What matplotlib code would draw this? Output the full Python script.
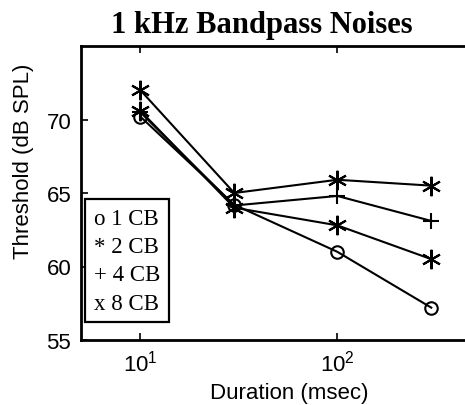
import matplotlib.pyplot as plt
from matplotlib.ticker import LogLocator, NullLocator

plt.rcParams['mathtext.fontset'] = 'custom'
plt.rcParams['mathtext.rm'] = 'Liberation Sans'
plt.rcParams['mathtext.it'] = 'Liberation Sans:italic'
plt.rcParams['mathtext.bf'] = 'Liberation Sans:bold'

# Data
durations = [10, 30, 100, 300]
thr_1cb = [70.2, 64.2, 61.0, 57.2]
thr_2cb = [72.0, 65.0, 65.9, 65.5]
thr_4cb = [70.5, 64.15, 64.8, 63.1]
thr_8cb = [70.6, 64.0, 62.8, 60.5]
legend_labels = ['o 1 CB', '* 2 CB', '+ 4 CB', 'x 8 CB']
yticks = [55, 60, 65, 70]

asterisk = (6, 2, 0)

fig = plt.figure(figsize=(4.65, 4.06), dpi=100)
ax = fig.add_axes([81 / 465, 65 / 406, 394 / 465, 294 / 406])

ax.plot(durations, thr_1cb, color='black', lw=1.5, marker='o', ms=9, mfc='none', mew=1.5)
ax.plot(durations, thr_2cb, color='black', lw=1.5, marker=asterisk, ms=14, mew=1.5)
ax.plot(durations, thr_4cb, color='black', lw=1.5, marker='+', ms=12, mew=1.5)
ax.plot(durations, thr_8cb, color='black', lw=1.5, marker=asterisk, ms=14, mew=1.5)

ax.set_xscale('log')
ax.set_xlim(5, 500)
ax.set_ylim(55, 75)
ax.set_yticks(yticks)
ax.xaxis.set_major_locator(LogLocator(base=10, numticks=10))
ax.xaxis.set_minor_locator(NullLocator())

for s in ax.spines.values():
    s.set_linewidth(2)
ax.tick_params(direction='in', top=True, right=True, length=5, width=1.2,
               labelsize=16, pad=7)
for lab in ax.get_xticklabels() + ax.get_yticklabels():
    lab.set_family('Liberation Sans')

ax.set_xlabel('Duration (msec)', fontsize=16, family='Liberation Sans')
ax.set_ylabel('Threshold (dB SPL)', fontsize=16, family='Liberation Sans')
ax.xaxis.set_label_coords(0.528, -0.143)
ax.yaxis.set_label_coords(-0.12, 0.61)
fig.text(262 / 465, 1 - 33 / 406, '1 kHz Bandpass Noises', ha='center', va='baseline',
         fontsize=22, fontweight='bold', family='Liberation Serif')

# text-only legend box like the original
handles = [plt.Line2D([], [], color='none') for _ in legend_labels]
leg = ax.legend(handles, legend_labels, loc='lower left', bbox_to_anchor=(0.01, 0.06),
                borderaxespad=0, handlelength=0, handletextpad=0, fancybox=False,
                framealpha=1, edgecolor='black', labelspacing=0.32, borderpad=0.38,
                prop={'family': 'Liberation Serif', 'size': 16.5})
leg.get_frame().set_linewidth(1.6)

fig.savefig('out.png', dpi=100)
